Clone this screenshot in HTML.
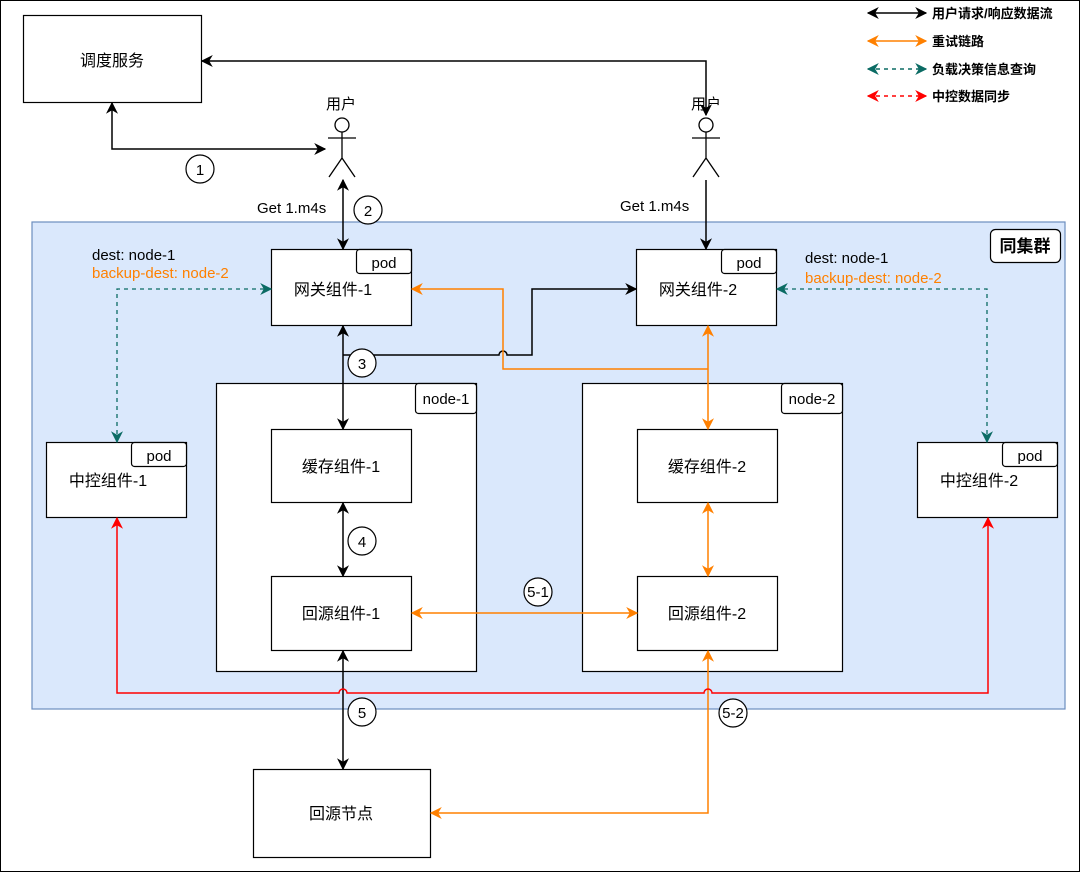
<!DOCTYPE html>
<html><head><meta charset="utf-8"><style>
html,body{margin:0;padding:0;background:#fff}
svg{display:block}
text{font-family:"Liberation Sans","Noto Sans CJK SC",sans-serif}
</style></head><body>
<svg width="1080" height="872" viewBox="0 0 1080 872" xmlns="http://www.w3.org/2000/svg">
<defs>
<marker id="ak" viewBox="0 0 10 10" refX="9" refY="5" markerWidth="12" markerHeight="12" orient="auto-start-reverse" markerUnits="userSpaceOnUse"><path d="M0,0 L10,5 L0,10 L3,5 z" fill="#000"/></marker>
<marker id="ao" viewBox="0 0 10 10" refX="9" refY="5" markerWidth="12" markerHeight="12" orient="auto-start-reverse" markerUnits="userSpaceOnUse"><path d="M0,0 L10,5 L0,10 L3,5 z" fill="#ff8000"/></marker>
<marker id="at" viewBox="0 0 10 10" refX="9" refY="5" markerWidth="12" markerHeight="12" orient="auto-start-reverse" markerUnits="userSpaceOnUse"><path d="M0,0 L10,5 L0,10 L3,5 z" fill="#0b6b64"/></marker>
<marker id="ar" viewBox="0 0 10 10" refX="9" refY="5" markerWidth="12" markerHeight="12" orient="auto-start-reverse" markerUnits="userSpaceOnUse"><path d="M0,0 L10,5 L0,10 L3,5 z" fill="#ff0000"/></marker>
</defs>
<rect x="0.5" y="0.5" width="1079" height="871" fill="#fff" stroke="#000"/>

<g stroke-width="1.5" fill="none">
<line x1="868" y1="13" x2="926" y2="13" stroke="#000" marker-start="url(#ak)" marker-end="url(#ak)"/>
<line x1="868" y1="41" x2="926" y2="41" stroke="#ff8000" marker-start="url(#ao)" marker-end="url(#ao)"/>
<line x1="868" y1="69" x2="926" y2="69" stroke="#0b6b64" stroke-dasharray="4,4" marker-start="url(#at)" marker-end="url(#at)"/>
<line x1="868" y1="96" x2="926" y2="96" stroke="#ff0000" stroke-dasharray="4,4" marker-start="url(#ar)" marker-end="url(#ar)"/>
</g>
<g font-size="13" font-weight="bold" fill="#000">
<text x="932" y="18">用户请求/响应数据流</text>
<text x="932" y="46">重试链路</text>
<text x="932" y="74">负载决策信息查询</text>
<text x="932" y="101">中控数据同步</text>
</g>

<rect x="32" y="222" width="1033" height="487" fill="#dae8fc" stroke="#6c8ebf" stroke-width="1.2"/>
<rect x="990.5" y="229.5" width="70" height="33" rx="5" fill="#fff" stroke="#000" stroke-width="1.2"/>
<text x="1025" y="252" font-size="17" font-weight="bold" text-anchor="middle">同集群</text>

<g fill="#fff" stroke="#000" stroke-width="1.2">
<rect x="23.5" y="15.5" width="178" height="87"/>
<rect x="216.5" y="383.5" width="260" height="288"/>
<rect x="582.5" y="383.5" width="260" height="288"/>
<rect x="271.5" y="249.5" width="140" height="76"/>
<rect x="636.5" y="249.5" width="140" height="76"/>
<rect x="271.5" y="429.5" width="140" height="73"/>
<rect x="637.5" y="429.5" width="140" height="73"/>
<rect x="271.5" y="576.5" width="140" height="74"/>
<rect x="637.5" y="576.5" width="140" height="74"/>
<rect x="46.5" y="442.5" width="140" height="75"/>
<rect x="917.5" y="442.5" width="140" height="75"/>
<rect x="253.5" y="769.5" width="177" height="88"/>
<rect x="356.5" y="249.5" width="55" height="24" rx="3"/>
<rect x="721.5" y="249.5" width="55" height="24" rx="3"/>
<rect x="131.5" y="442.5" width="55" height="24" rx="3"/>
<rect x="1002.5" y="442.5" width="55" height="24" rx="3"/>
<rect x="415.5" y="383.5" width="61" height="30" rx="3"/>
<rect x="781.5" y="383.5" width="61" height="30" rx="3"/>
</g>
<g font-size="16" text-anchor="middle" fill="#000">
<text x="112" y="66">调度服务</text>
<text x="333" y="295">网关组件-1</text>
<text x="698" y="295">网关组件-2</text>
<text x="341" y="472">缓存组件-1</text>
<text x="707" y="472">缓存组件-2</text>
<text x="341" y="619">回源组件-1</text>
<text x="707" y="619">回源组件-2</text>
<text x="108" y="486">中控组件-1</text>
<text x="979" y="486">中控组件-2</text>
<text x="341" y="819">回源节点</text>
</g>
<g font-size="15" text-anchor="middle" fill="#000">
<text x="384" y="268">pod</text>
<text x="749" y="268">pod</text>
<text x="159" y="461">pod</text>
<text x="1030" y="461">pod</text>
<text x="446" y="404">node-1</text>
<text x="812" y="404">node-2</text>
</g>

<g stroke="#000" stroke-width="1.3" fill="#fff">
<circle cx="342" cy="125" r="7"/>
<path d="M342,132 V158 M328,138 H356 M342,158 L329,177 M342,158 L355,177" fill="none"/>
<circle cx="706" cy="125" r="7"/>
<path d="M706,132 V158 M692,138 H720 M706,158 L693,177 M706,158 L719,177" fill="none"/>
</g>
<g font-size="15" text-anchor="middle"><text x="341" y="109">用户</text><text x="706" y="109">用户</text></g>

<g stroke="#000" stroke-width="1.5" fill="none">
<path d="M112,103 V149 H325" marker-start="url(#ak)" marker-end="url(#ak)"/>
<path d="M202,61 H706 V115" marker-start="url(#ak)" marker-end="url(#ak)"/>
<path d="M343,180 V249" marker-start="url(#ak)" marker-end="url(#ak)"/>
<path d="M706,180 V249" marker-end="url(#ak)"/>
<path d="M343,326 V429" marker-start="url(#ak)" marker-end="url(#ak)"/>
<path d="M343,355 H499 A4,4 0 0 1 507,355 H532 V289 H636" marker-end="url(#ak)"/>
<path d="M343,503 V576" marker-start="url(#ak)" marker-end="url(#ak)"/>
<path d="M343,651 V769" marker-start="url(#ak)" marker-end="url(#ak)"/>
</g>

<g stroke="#ff8000" stroke-width="1.5" fill="none">
<path d="M412,289 H503 V369 H708" marker-start="url(#ao)"/>
<path d="M708,326 V429" marker-start="url(#ao)" marker-end="url(#ao)"/>
<path d="M708,503 V576" marker-start="url(#ao)" marker-end="url(#ao)"/>
<path d="M412,613 H637" marker-start="url(#ao)" marker-end="url(#ao)"/>
<path d="M708,651 V813 H431" marker-start="url(#ao)" marker-end="url(#ao)"/>
</g>

<g stroke="#0b6b64" stroke-width="1.3" fill="none" stroke-dasharray="4,4">
<path d="M117,442 V289 H271" marker-start="url(#at)" marker-end="url(#at)"/>
<path d="M987,442 V289 H777" marker-start="url(#at)" marker-end="url(#at)"/>
</g>

<path d="M117,518 V693 H339 A4,4 0 0 1 347,693 H704 A4,4 0 0 1 712,693 H988 V518" stroke="#ff0000" stroke-width="1.5" fill="none" marker-start="url(#ar)" marker-end="url(#ar)"/>

<g font-size="15" fill="#000">
<text x="257" y="213">Get 1.m4s</text>
<text x="620" y="211">Get 1.m4s</text>
<text x="92" y="260">dest: node-1</text>
<text x="92" y="278" fill="#ff8000">backup-dest: node-2</text>
<text x="805" y="263">dest: node-1</text>
<text x="805" y="283" fill="#ff8000">backup-dest: node-2</text>
</g>

<g fill="#fff" stroke="#000" stroke-width="1.2">
<circle cx="200" cy="169" r="14"/>
<circle cx="368" cy="210" r="14"/>
<circle cx="362" cy="363" r="14"/>
<circle cx="362" cy="541" r="14"/>
<circle cx="538" cy="592" r="14"/>
<circle cx="362" cy="712" r="14"/>
<circle cx="733" cy="713" r="14"/>
</g>
<g font-size="15" text-anchor="middle" fill="#000">
<text x="200" y="175">1</text>
<text x="368" y="216">2</text>
<text x="362" y="369">3</text>
<text x="362" y="547">4</text>
<text x="538" y="597">5-1</text>
<text x="362" y="718">5</text>
<text x="733" y="718">5-2</text>
</g>
</svg>
</body></html>
